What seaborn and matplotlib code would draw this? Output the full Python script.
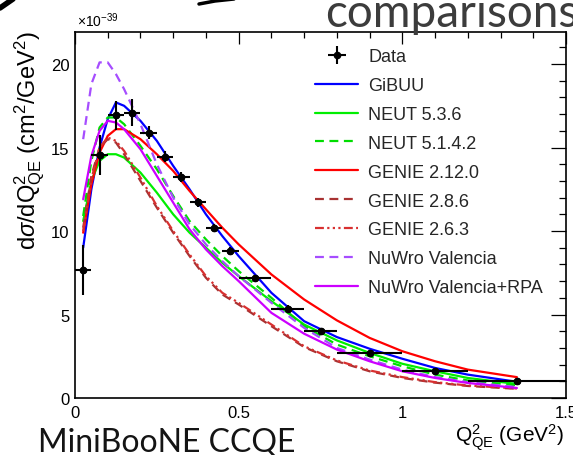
import numpy as np
import pandas as pd
import matplotlib
matplotlib.use("Agg")
import matplotlib.pyplot as plt
import seaborn as sns
from matplotlib.lines import Line2D

sns.set_theme(style="white")
plt.rcParams['font.family'] = ['Liberation Sans', 'DejaVu Sans']
plt.rcParams['mathtext.fontset'] = 'custom'
plt.rcParams['mathtext.rm'] = 'Liberation Sans'
plt.rcParams['mathtext.it'] = 'Liberation Sans:italic'
plt.rcParams['mathtext.bf'] = 'Liberation Sans:bold'

# ---------------- data (x 1e-39 cm^2/GeV^2) ----------------
data_x = [0.025, 0.075, 0.125, 0.175, 0.225, 0.275, 0.325, 0.375, 0.425, 0.475,
          0.55, 0.65, 0.75, 0.9, 1.1, 1.35]
data_y = [7.68, 14.54, 16.93, 17.09, 15.90, 14.46, 13.23, 11.72, 10.20, 8.82,
          7.17, 5.36, 4.00, 2.70, 1.61, 0.99]
data_xerr = [0.025, 0.025, 0.025, 0.025, 0.025, 0.025, 0.025, 0.025, 0.025, 0.025,
             0.05, 0.05, 0.05, 0.1, 0.1, 0.15]
data_yerr = [1.5, 1.2, 0.85, 0.8, 0.38, 0.32, 0.3, 0.26, 0.24, 0.22,
             0.2, 0.18, 0.15, 0.12, 0.1, 0.06]

model_x = [0.025, 0.05, 0.075, 0.1, 0.125, 0.15, 0.2, 0.25, 0.3, 0.35, 0.4, 0.45,
           0.5, 0.6, 0.7, 0.8, 0.9, 1.0, 1.1, 1.2, 1.35]

gibuu      = [9.0, 12.5, 15.0, 16.7, 17.7, 17.5, 16.6, 15.4, 13.9, 12.5, 11.0, 9.7,
              8.5, 6.3, 4.6, 3.65, 2.95, 2.35, 1.8, 1.4, 0.97]
neut536    = [10.6, 13.0, 14.2, 14.6, 14.6, 14.4, 13.5, 12.3, 11.0, 9.9, 9.0, 8.1,
              7.3, 5.8, 4.4, 3.45, 2.7, 2.05, 1.6, 1.2, 0.84]
neut5142   = [10.9, 14.2, 16.2, 16.8, 16.8, 16.4, 15.1, 13.7, 12.1, 10.6, 9.5, 8.5,
              7.6, 6.0, 4.3, 3.2, 2.5, 1.9, 1.4, 1.05, 0.76]
genie2120  = [9.9, 12.8, 14.7, 15.7, 16.1, 16.1, 15.5, 14.6, 13.6, 12.4, 11.3, 10.2,
              9.2, 7.4, 5.9, 4.65, 3.6, 2.8, 2.2, 1.7, 1.25]
genie286   = [10.2, 13.3, 15.0, 15.5, 15.3, 14.6, 13.0, 11.4, 9.9, 8.5, 7.2, 6.2,
              5.6, 4.3, 3.05, 2.2, 1.6, 1.2, 0.92, 0.72, 0.55]
genie263   = [10.0, 13.1, 15.0, 15.6, 15.4, 14.8, 13.2, 11.5, 10.0, 8.6, 7.3, 6.3,
              5.7, 4.4, 3.1, 2.25, 1.65, 1.25, 0.95, 0.75, 0.57]
nuwro_val  = [15.5, 18.8, 20.1, 20.1, 19.4, 18.5, 16.4, 14.0, 12.0, 10.4, 9.2, 8.2,
              7.3, 5.7, 4.2, 3.0, 2.3, 1.7, 1.25, 0.95, 0.65]
nuwro_rpa  = [11.9, 14.5, 16.0, 16.6, 16.5, 16.1, 14.9, 13.3, 11.7, 10.1, 8.9, 7.9,
              7.0, 5.1, 3.85, 2.9, 2.2, 1.6, 1.2, 0.9, 0.6]

series = [
    ("GiBUU", gibuu, "#0000ff", "-"),
    ("NEUT 5.3.6", neut536, "#00ee00", "-"),
    ("NEUT 5.1.4.2", neut5142, "#00dd00", (0, (4, 2.5))),
    ("GENIE 2.12.0", genie2120, "#ff0000", "-"),
    ("GENIE 2.8.6", genie286, "#a83232", (0, (4, 2.5))),
    ("GENIE 2.6.3", genie263, "#d83030", (0, (4, 1.5, 1, 1.5, 1, 1.5, 1, 1.5))),
    ("NuWro Valencia", nuwro_val, "#a64dff", (0, (4, 2.5))),
    ("NuWro Valencia+RPA", nuwro_rpa, "#cc00ff", "-"),
]

W, H = 573, 456
fig = plt.figure(figsize=(W / 100, H / 100), dpi=100)
fig.patch.set_facecolor("white")
ax = fig.add_axes([75 / W, 1 - 399 / H, (566 - 75) / W, (399 - 33) / H])
ax.set_facecolor("white")

handles = []
for name, vals, col, ls in series:
    df = pd.DataFrame({"x": model_x, "y": vals})
    sns.lineplot(data=df, x="x", y="y", ax=ax, color=col, lw=1.6, linestyle=ls,
                 legend=False, sort=True)
    handles.append(Line2D([], [], color=col, lw=1.6, linestyle=ls))

eb = ax.errorbar(data_x, data_y, xerr=data_xerr, yerr=data_yerr, fmt="o",
                 color="black", ms=4.5, elinewidth=1.5, capsize=0, zorder=10)
sns.scatterplot(x=data_x, y=data_y, ax=ax, color="black", s=22, zorder=11,
                edgecolor="black", legend=False)

ax.set_xlim(0, 1.5)
ax.set_ylim(0, 21.92)
ax.set_xlabel("")
ax.set_ylabel("")
ax.set_xticks([0, 0.5, 1.0, 1.5])
ax.set_xticklabels(["0", "0.5", "1", "1.5"])
ax.set_yticks([0, 5, 10, 15, 20])
ax.set_yticklabels(["0", "5", "10", "15", "20"])
ax.set_xticks(np.arange(0, 1.51, 0.1), minor=True)
ax.set_yticks(np.arange(0, 22, 1), minor=True)
ax.tick_params(axis="both", which="both", direction="in", top=True, right=True,
               colors="black", width=0.9, labelsize=12)
ax.tick_params(axis="x", which="major", length=8.6, pad=5)
ax.tick_params(axis="x", which="minor", length=4.3)
ax.tick_params(axis="y", which="major", length=10.8, pad=4)
ax.tick_params(axis="y", which="minor", length=5.4)
for sp in ax.spines.values():
    sp.set_visible(True)
    sp.set_color("black")
    sp.set_linewidth(1.2)

labels = ["Data"] + [s[0] for s in series]
leg = ax.legend([eb] + handles, labels, loc="upper left",
                bbox_to_anchor=(315 / W, 1 - 49 / H), bbox_transform=fig.transFigure,
                frameon=False, fontsize=13, handlelength=2.4, handletextpad=0.55,
                labelspacing=0.66, borderpad=0, borderaxespad=0)

# axis titles
fig.text(30 / W, 1 - 31 / H, r"d$\sigma$/dQ$^{2}_{\rm QE}$ (cm$^{2}$/GeV$^{2}$)",
         rotation=90, ha="center", va="top", fontsize=17, color="black")
fig.text(564 / W, 1 - 438 / H, r"Q$^{2}_{\rm QE}$ (GeV$^{2}$)", ha="right",
         va="center", fontsize=15, color="black")
fig.text(77 / W, 1 - 21 / H, r"$\times$10$^{-39}$", ha="left", va="center",
         fontsize=10, color="black")

# slide texts
fig.text(38 / W, 1 - 452 / H, "MiniBooNE CCQE", fontsize=23, family="Lato",
         color="#141414", ha="left", va="baseline")
fig.text(325 / W, 1 - 27 / H, "comparisons", fontsize=33, family="Lato",
         color="#3c3c3c", ha="left", va="baseline")

# slide decorations (black strokes at the top edge)
fig.add_artist(Line2D([0, 13 / W], [1 - 9 / H, 1.0], color="black", lw=4,
                      transform=fig.transFigure))
fig.add_artist(Line2D([199 / W, 215 / W, 234 / W], [1 - 5 / H, 1 - 2 / H, 1.0],
                      color="black", lw=2.5, transform=fig.transFigure))

fig.savefig("out.png", dpi=100)
